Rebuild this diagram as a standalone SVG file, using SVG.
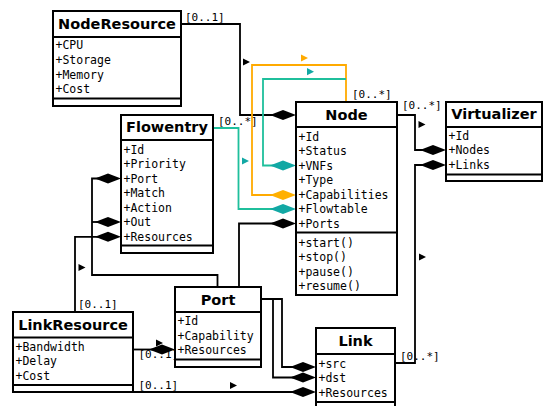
<svg xmlns="http://www.w3.org/2000/svg" width="543" height="406" viewBox="0 0 543 406">
<style>
.box{fill:#fff;stroke:#000;stroke-width:2}
.div{stroke:#000;stroke-width:2}
.hd{font-family:"DejaVu Sans",sans-serif;font-weight:bold;font-size:14.5px;text-anchor:middle;fill:#000}
.at{font-family:"DejaVu Sans Mono",monospace;font-size:11.5px;fill:#000}
.lb{font-family:"DejaVu Sans Mono",monospace;font-size:11px;fill:#000}
.ln{fill:none;stroke:#000;stroke-width:1.8}
.lo{fill:none;stroke:#FFAA00;stroke-width:1.8}
.lt{fill:none;stroke:#1FBF9C;stroke-width:1.8}
</style>
<defs>
<path id="dm" d="M0,0 L-13,-5 L-26,0 L-13,5 Z"/>
<path id="ar" d="M0,-3.6 L7,0 L0,3.6 Z"/>
</defs>
<rect width="543" height="406" fill="#fff"/>
<g id="connectors">
<!-- NodeResource -> Node -->
<path class="ln" d="M181,24 H240 V115 H275"/>
<use href="#dm" x="296" y="115" fill="#000"/>
<use href="#ar" x="243" y="62" fill="#000"/>
<text class="lb" x="185" y="20.5">[0..1]</text>
<!-- Node self (Capabilities) orange -->
<path class="lo" d="M346,102 V65 H252 V195 H275"/>
<use href="#dm" x="296" y="195" fill="#FFB000"/>
<use href="#ar" x="301" y="58" fill="#FFAA00"/>
<!-- Node self (VNFs) teal -->
<path class="lt" d="M346,79 H263 V165.5 H275"/>
<use href="#dm" x="296" y="165.5" fill="#12A8A4"/>
<use href="#ar" x="307" y="71.7" fill="#12A8A4"/>
<text class="lb" x="352" y="98">[0..*]</text>
<!-- Flowentry -> Node.Flowtable -->
<path class="lt" d="M213,128 H238.5 V209 H275"/>
<use href="#dm" x="296" y="209" fill="#12A8A4"/>
<use href="#ar" x="242" y="161" fill="#12A8A4"/>
<text class="lb" x="218" y="124.5">[0..*]</text>
<!-- Node -> Virtualizer.Nodes -->
<path class="ln" d="M397,115 H415 V150 H425"/>
<use href="#dm" x="446" y="150" fill="#000"/>
<use href="#ar" x="418.5" y="124.5" fill="#000"/>
<text class="lb" x="402" y="109">[0..*]</text>
<!-- Link -> Virtualizer.Links -->
<path class="ln" d="M395,363 H415 V165 H425"/>
<use href="#dm" x="446" y="165" fill="#000"/>
<use href="#ar" x="419" y="257" fill="#000"/>
<text class="lb" x="400" y="360">[0..*]</text>
<!-- Port -> Flowentry.Port / Out -->
<path class="ln" d="M100,178.5 H92 V275 H217.5 V287"/>
<path class="ln" d="M92,222 H100"/>
<use href="#dm" x="121" y="178.5" fill="#000"/>
<use href="#dm" x="121" y="222" fill="#000"/>
<!-- LinkResource -> Flowentry.Resources -->
<path class="ln" d="M100,236.8 H75 V312"/>
<use href="#dm" x="121" y="236.8" fill="#000"/>
<use href="#ar" x="78.5" y="267.5" fill="#000"/>
<text class="lb" x="78" y="308">[0..1]</text>
<!-- Port -> Node.Ports -->
<path class="ln" d="M275,223.5 H239 V287"/>
<use href="#dm" x="296" y="223.5" fill="#000"/>
<!-- Port -> Link.src / dst -->
<path class="ln" d="M261,299 H282 V367 H295"/>
<path class="ln" d="M273,299 V377.5 H295"/>
<use href="#dm" x="316" y="367" fill="#000"/>
<use href="#dm" x="316" y="377.5" fill="#000"/>
<!-- LinkResource -> Link.Resources -->
<path class="ln" d="M133,392 H295"/>
<use href="#dm" x="316" y="392" fill="#000"/>
<use href="#ar" x="230" y="385.5" fill="#000"/>
<text class="lb" x="138.5" y="389">[0..1]</text>
<!-- LinkResource -> Port.Resources -->
<text class="lb" x="138.5" y="358">[0..1]</text>
<path class="ln" d="M133,349.5 H155"/>
<use href="#dm" x="175" y="349.5" fill="#000"/>
<use href="#ar" x="156" y="343" fill="#000"/>
</g>
<g id="NodeResource">
<rect class="box" x="53" y="11" width="128" height="95"/>
<line class="div" x1="53" y1="37" x2="181" y2="37"/>
<line class="div" x1="53" y1="98.5" x2="181" y2="98.5"/>
<text class="hd" x="117" y="28.5">NodeResource</text>
<text class="at" x="55.5" y="49">+CPU</text>
<text class="at" x="55.5" y="64">+Storage</text>
<text class="at" x="55.5" y="78.5">+Memory</text>
<text class="at" x="55.5" y="93">+Cost</text>
</g>
<g id="Flowentry">
<rect class="box" x="121" y="115" width="92" height="138"/>
<line class="div" x1="121" y1="140" x2="213" y2="140"/>
<line class="div" x1="121" y1="245.5" x2="213" y2="245.5"/>
<text class="hd" x="167" y="132">Flowentry</text>
<text class="at" x="123.5" y="153.5">+Id</text>
<text class="at" x="123.5" y="168">+Priority</text>
<text class="at" x="123.5" y="182.5">+Port</text>
<text class="at" x="123.5" y="197">+Match</text>
<text class="at" x="123.5" y="211.5">+Action</text>
<text class="at" x="123.5" y="226">+Out</text>
<text class="at" x="123.5" y="240.5">+Resources</text>
</g>
<g id="Node">
<rect class="box" x="296" y="102" width="101" height="193"/>
<line class="div" x1="296" y1="127" x2="397" y2="127"/>
<line class="div" x1="296" y1="232.5" x2="397" y2="232.5"/>
<text class="hd" x="346.5" y="119.5">Node</text>
<text class="at" x="298.5" y="141">+Id</text>
<text class="at" x="298.5" y="155.3">+Status</text>
<text class="at" x="298.5" y="169.8">+VNFs</text>
<text class="at" x="298.5" y="184.2">+Type</text>
<text class="at" x="298.5" y="198.6">+Capabilities</text>
<text class="at" x="298.5" y="213.1">+Flowtable</text>
<text class="at" x="298.5" y="227.5">+Ports</text>
<text class="at" x="298.5" y="246.5">+start()</text>
<text class="at" x="298.5" y="261">+stop()</text>
<text class="at" x="298.5" y="275.5">+pause()</text>
<text class="at" x="298.5" y="290">+resume()</text>
</g>
<g id="Virtualizer">
<rect class="box" x="446" y="102" width="96" height="79"/>
<line class="div" x1="446" y1="127" x2="542" y2="127"/>
<line class="div" x1="446" y1="174.5" x2="542" y2="174.5"/>
<text class="hd" x="494" y="118.5">Virtualizer</text>
<text class="at" x="448.5" y="139.5">+Id</text>
<text class="at" x="448.5" y="154.3">+Nodes</text>
<text class="at" x="448.5" y="169">+Links</text>
</g>
<g id="Port">
<rect class="box" x="175" y="287" width="86" height="80"/>
<line class="div" x1="175" y1="312" x2="261" y2="312"/>
<line class="div" x1="175" y1="359.5" x2="261" y2="359.5"/>
<text class="hd" x="218" y="304.5">Port</text>
<text class="at" x="177.5" y="325">+Id</text>
<text class="at" x="177.5" y="339.8">+Capability</text>
<text class="at" x="177.5" y="354">+Resources</text>
</g>
<g id="LinkResource">
<rect class="box" x="13" y="312" width="120" height="80"/>
<line class="div" x1="13" y1="337.5" x2="133" y2="337.5"/>
<line class="div" x1="13" y1="385" x2="133" y2="385"/>
<text class="hd" x="73" y="330">LinkResource</text>
<text class="at" x="15.5" y="351">+Bandwidth</text>
<text class="at" x="15.5" y="365.3">+Delay</text>
<text class="at" x="15.5" y="379.8">+Cost</text>
</g>
<g id="Link">
<rect class="box" x="316" y="328" width="79" height="90"/>
<line class="div" x1="316" y1="354" x2="395" y2="354"/>
<line class="div" x1="316" y1="402" x2="395" y2="402"/>
<text class="hd" x="355.5" y="346">Link</text>
<text class="at" x="318.5" y="367.5">+src</text>
<text class="at" x="318.5" y="381.5">+dst</text>
<text class="at" x="318.5" y="396.5">+Resources</text>
</g>
</svg>
